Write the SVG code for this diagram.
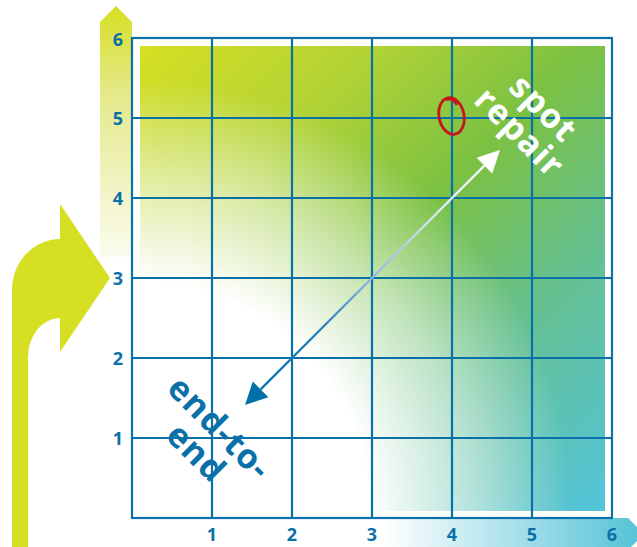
<svg xmlns="http://www.w3.org/2000/svg" width="637" height="547" viewBox="0 0 637 547">
<style>
.grid{fill:none;stroke:#0a70a8;stroke-width:2.2}
.num{font-family:"Open Sans","DejaVu Sans",sans-serif;font-weight:700;font-size:18px;fill:#0a70a8;text-anchor:middle}
.big{font-family:"Open Sans","DejaVu Sans",sans-serif;font-weight:700;font-size:34px;letter-spacing:1.2px;text-anchor:middle}
</style>
<defs>
<linearGradient id="base" gradientUnits="userSpaceOnUse" x1="140" y1="46" x2="605" y2="511">
<stop offset="0" stop-color="#d6df22"/>
<stop offset="0.25" stop-color="#b2d335"/>
<stop offset="0.48" stop-color="#7cc142"/>
<stop offset="0.7" stop-color="#66c08e"/>
<stop offset="1" stop-color="#52c4dc"/>
</linearGradient>
<radialGradient id="fog" gradientUnits="userSpaceOnUse" cx="140" cy="511" r="440">
<stop offset="0" stop-color="#fff" stop-opacity="1"/>
<stop offset="0.52" stop-color="#fff" stop-opacity="1"/>
<stop offset="0.75" stop-color="#fff" stop-opacity="0.55"/>
<stop offset="0.98" stop-color="#fff" stop-opacity="0"/>
</radialGradient>
<linearGradient id="ybar" x1="0" y1="0" x2="0" y2="1">
<stop offset="0" stop-color="#d6df22"/>
<stop offset="0.35" stop-color="#e4e98a"/>
<stop offset="1" stop-color="#fbfcee"/>
</linearGradient>
<linearGradient id="xbar" gradientUnits="userSpaceOnUse" x1="385" y1="0" x2="632" y2="0">
<stop offset="0" stop-color="#ffffff"/>
<stop offset="1" stop-color="#5ac4d8"/>
</linearGradient>
<linearGradient id="line" gradientUnits="userSpaceOnUse" x1="245" y1="405" x2="500" y2="150">
<stop offset="0" stop-color="#0070a8"/>
<stop offset="0.3" stop-color="#2a80b8"/>
<stop offset="0.5" stop-color="#90b8e0"/>
<stop offset="0.8" stop-color="#e6eff8"/>
<stop offset="1" stop-color="#ffffff"/>
</linearGradient>
</defs>

<g id="y-axis">
<path d="M100,22 L116,6 L132,22 V257 H100 Z" fill="url(#ybar)"/>
<text class="num" x="118" y="46">6</text>
<text class="num" x="118" y="125">5</text>
<text class="num" x="118" y="205">4</text>
<text class="num" x="118" y="285">3</text>
<text class="num" x="118" y="365">2</text>
<text class="num" x="118" y="445">1</text>
</g>

<g id="x-axis">
<path d="M380,518 H628 L644,534 L628,550 H380 Z" fill="url(#xbar)"/>
<text class="num" x="212" y="541">1</text>
<text class="num" x="292" y="541">2</text>
<text class="num" x="372" y="541">3</text>
<text class="num" x="452" y="541">4</text>
<text class="num" x="532" y="541">5</text>
<text class="num" x="612" y="541">6</text>
</g>

<g id="field">
<rect x="140" y="46" width="465" height="465" fill="url(#base)"/>
<rect x="140" y="46" width="465" height="465" fill="url(#fog)"/>
</g>

<g id="grid">
<rect class="grid" x="132" y="38" width="480" height="480"/>
<path class="grid" d="M212,38V518M292,38V518M372,38V518M452,38V518M532,38V518M132,118H612M132,198H612M132,278H612M132,358H612M132,438H612"/>
</g>

<g id="left-arrow">
<path d="M12,547 V290 A48,51 0 0 1 60,239 V204 L110,278 L60,352 V318 A32,39 0 0 0 28,357 V547 Z" fill="#d7df22"/>
</g>

<g id="marker">
<ellipse cx="451.5" cy="116" rx="12.5" ry="18.5" transform="rotate(-11 451.5 116)" fill="none" stroke="#c4161c" stroke-width="2.8"/>
<path d="M446,100 Q452,97 457,105" fill="none" stroke="#c4161c" stroke-width="2.4"/>
</g>

<g id="connectors">
<line x1="260.6" y1="389.4" x2="484.4" y2="165.6" stroke="url(#line)" stroke-width="2.2"/>
<polygon points="245,405 252.8,381.6 268.4,397.2" fill="#0070a8"/>
<polygon points="500,150 476.6,157.8 492.2,173.4" fill="#ffffff"/>
</g>

<g id="spot-repair" transform="rotate(45)">
<text class="big" fill="#ffffff" x="461" y="-296">spot</text>
<text class="big" fill="#ffffff" x="461" y="-262">repair</text>
</g>

<g id="end-to-end" transform="rotate(45)">
<text class="big" fill="#0a70a8" x="458" y="159">end-to-</text>
<text class="big" fill="#0a70a8" x="459" y="193">end</text>
</g>
</svg>
